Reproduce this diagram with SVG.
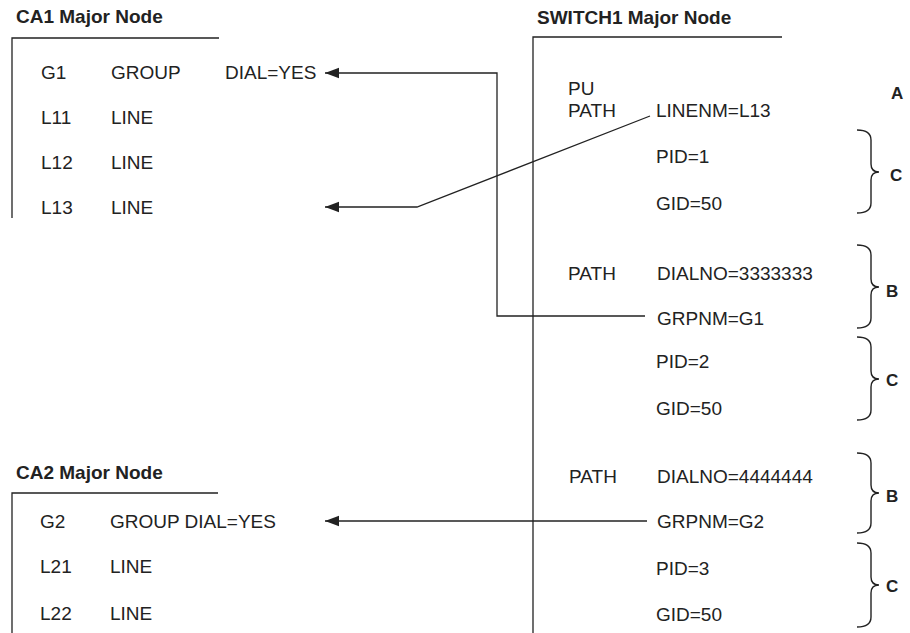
<svg xmlns="http://www.w3.org/2000/svg" width="910" height="633" viewBox="0 0 910 633">
<defs>
<marker id="arr" markerUnits="userSpaceOnUse" markerWidth="15" markerHeight="12" refX="14" refY="6" orient="auto">
<path d="M0,0.8 L14,6 L0,11.2 Z" fill="#222"/>
</marker>
<style>
text{font-family:"Liberation Sans",Arial,sans-serif;fill:#222;}
.t{font-size:19px;}
.h{font-size:19px;font-weight:bold;}
.l{font-size:17px;font-weight:bold;}
.frame{fill:none;stroke:#222;stroke-width:1.3;}
.conn{fill:none;stroke:#222;stroke-width:1.3;}
.brace{fill:none;stroke:#222;stroke-width:1.4;}
</style>
</defs>
<rect width="910" height="633" fill="#fff"/>

<g id="ca1">
<text class="h" x="16" y="23">CA1 Major Node</text>
<path class="frame" d="M12,218 L12,38 L219,38"/>
<text class="t" x="41" y="79">G1</text>
<text class="t" x="111" y="79">GROUP</text>
<text class="t" x="225" y="79">DIAL=YES</text>
<text class="t" x="41" y="124">L11</text>
<text class="t" x="111" y="124">LINE</text>
<text class="t" x="41" y="169">L12</text>
<text class="t" x="111" y="169">LINE</text>
<text class="t" x="41" y="214">L13</text>
<text class="t" x="111" y="214">LINE</text>
</g>

<g id="ca2">
<text class="h" x="16" y="479">CA2 Major Node</text>
<path class="frame" d="M12,633 L12,493 L218,493"/>
<text class="t" x="40" y="528">G2</text>
<text class="t" x="110" y="528">GROUP DIAL=YES</text>
<text class="t" x="40" y="573">L21</text>
<text class="t" x="110" y="573">LINE</text>
<text class="t" x="40" y="620">L22</text>
<text class="t" x="110" y="620">LINE</text>
</g>

<g id="switch1">
<text class="h" x="537" y="24">SWITCH1 Major Node</text>
<path class="frame" d="M533,633 L533,37 L782,37"/>
<text class="t" x="568" y="95">PU</text>
<text class="t" x="568" y="117">PATH</text>
<text class="t" x="656" y="117">LINENM=L13</text>
<text class="t" x="656" y="163">PID=1</text>
<text class="t" x="656" y="210">GID=50</text>
<text class="t" x="568" y="280">PATH</text>
<text class="t" x="657" y="280">DIALNO=3333333</text>
<text class="t" x="657" y="325">GRPNM=G1</text>
<text class="t" x="656" y="368">PID=2</text>
<text class="t" x="656" y="415">GID=50</text>
<text class="t" x="569" y="483">PATH</text>
<text class="t" x="657" y="483">DIALNO=4444444</text>
<text class="t" x="657" y="528">GRPNM=G2</text>
<text class="t" x="656" y="575">PID=3</text>
<text class="t" x="656" y="621">GID=50</text>
</g>

<g id="annotations">
<text class="l" x="891" y="99">A</text>
<path class="brace" d="M857,130 C866,130 871,133 871,140 L871,164 C871,169 874,172 879,172 C874,172 871,175 871,180 L871,203 C871,210 866,213 857,213"/>
<text class="l" x="890" y="181">C</text>
<path class="brace" d="M857,245 C866,245 871,248 871,255 L871,279 C871,284 874,287 879,287 C874,287 871,290 871,295 L871,318 C871,325 866,328 857,328"/>
<text class="l" x="886" y="297">B</text>
<path class="brace" d="M857,337 C866,337 871,340 871,347 L871,371 C871,376 874,379 879,379 C874,379 871,382 871,387 L871,410 C871,417 866,420 857,420"/>
<text class="l" x="886" y="386">C</text>
<path class="brace" d="M857,453 C866,453 871,456 871,463 L871,485 C871,490 874,493 879,493 C874,493 871,496 871,501 L871,523 C871,530 866,533 857,533"/>
<text class="l" x="886" y="502">B</text>
<path class="brace" d="M857,543 C866,543 871,546 871,553 L871,577 C871,582 874,585 879,585 C874,585 871,588 871,593 L871,617 C871,624 866,627 857,627"/>
<text class="l" x="886" y="592">C</text>
</g>

<g id="connectors">
<path class="conn" d="M645,316 L497,316 L497,73 L325,73" marker-end="url(#arr)"/>
<path class="conn" d="M650,116 L417,207 L325,207" marker-end="url(#arr)"/>
<path class="conn" d="M647,521 L325,521" marker-end="url(#arr)"/>
</g>
</svg>
